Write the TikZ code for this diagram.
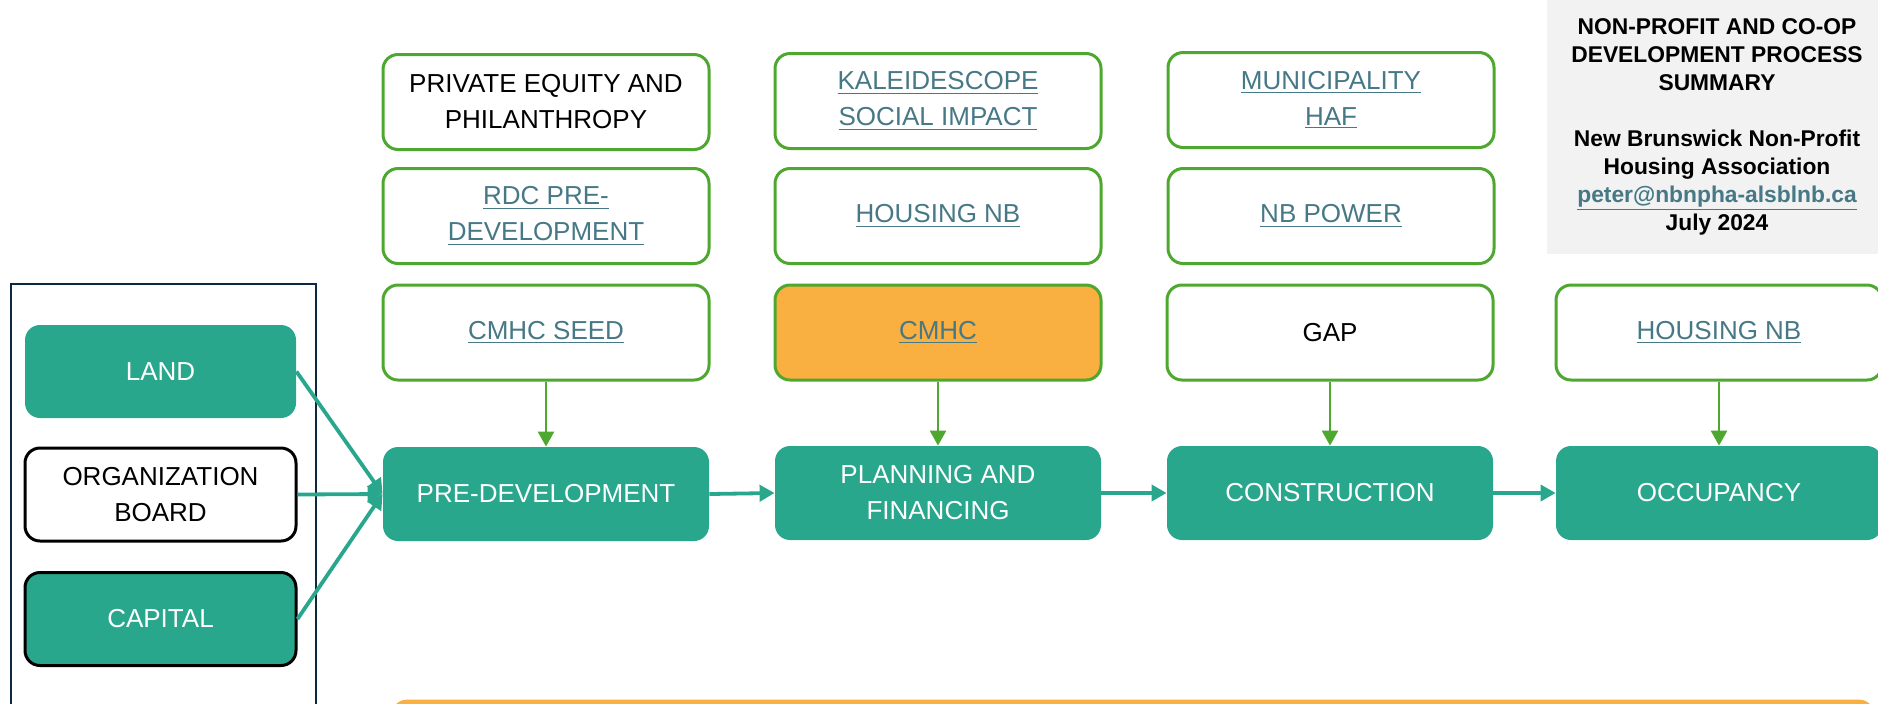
\documentclass[tikz,border=0pt]{standalone}
\usepackage{fontspec}
\setmainfont{Liberation Sans}
\usetikzlibrary{arrows.meta}
\definecolor{tealfill}{HTML}{28A78D}
\definecolor{greenline}{HTML}{4EA72E}
\definecolor{orangefill}{HTML}{FAAF41}
\definecolor{linkcol}{HTML}{467886}
\definecolor{navyline}{HTML}{0E2841}
\definecolor{greybg}{HTML}{F2F2F2}
\newcommand{\lnk}[1]{\textcolor{linkcol}{\underline{#1}}}
\begin{document}
\begin{tikzpicture}[x=0.5pt,y=-0.5pt,
  every node/.style={font=\fontsize{13}{18}\selectfont, align=center, inner sep=0pt},
  fundbox/.style={draw=greenline, line width=1.5pt, rounded corners=7.5pt, fill=white,
    minimum width=163pt, minimum height=47.5pt},
  stagebox/.style={fill=tealfill, rounded corners=7.5pt, text=white,
    minimum width=163pt, minimum height=47pt},
  sidebox/.style={rounded corners=7.5pt, minimum width=135.5pt, minimum height=46.5pt},
  tealarrow/.style={draw=tealfill, line width=1.9pt, -{Triangle[width=8pt,length=7.5pt]}},
  greenarrow/.style={draw=greenline, line width=1.3pt, -{Triangle[width=8pt,length=7.5pt]}}
]
\useasboundingbox (0,0) rectangle (1878,703);
\clip (0,0) rectangle (1878,703);

% summary
\node[fill=greybg, minimum width=166pt, minimum height=127pt] (sumbg) at (1713,127) {};
\node[anchor=north, font=\bfseries\fontsize{11.4}{14}\selectfont] (summary) at (1717,18)
  {NON-PROFIT AND CO-OP\\DEVELOPMENT PROCESS\\SUMMARY\\[14pt]
   New Brunswick Non-Profit\\Housing Association\\\lnk{peter@nbnpha-alsblnb.ca}\\July 2024};

% left group
\node[draw=navyline, line width=1.25pt, minimum width=152.5pt, minimum height=240pt] (group) at (163.5,524) {};
\node[sidebox, fill=tealfill, text=white] (land) at (160.5,371.5) {LAND};
\node[sidebox, fill=white, draw=black, line width=1.5pt] (org) at (160.5,494.5) {ORGANIZATION\\BOARD};
\node[sidebox, fill=tealfill, draw=black, line width=1.5pt, text=white] (cap) at (160.5,619) {CAPITAL};

% funding boxes
\node[fundbox] (pe) at (546,102) {PRIVATE EQUITY AND\\PHILANTHROPY};
\node[fundbox] (rdc) at (546,216) {\lnk{RDC PRE-}\\\lnk{DEVELOPMENT}};
\node[fundbox] (seed) at (546,332.5) {\lnk{CMHC SEED}};

\node[fundbox] (kal) at (938,101) {\lnk{KALEIDESCOPE}\\\lnk{SOCIAL IMPACT}};
\node[fundbox] (hnb1) at (938,216) {\lnk{HOUSING NB}};
\node[fundbox, fill=orangefill] (cmhc) at (938,332.5) {\lnk{CMHC}};

\node[fundbox] (muni) at (1331,100) {\lnk{MUNICIPALITY}\\\lnk{HAF}};
\node[fundbox] (power) at (1331,216) {\lnk{NB POWER}};
\node[fundbox] (gap) at (1330,332.5) {GAP};

\node[fundbox] (hnb2) at (1719,332.5) {\lnk{HOUSING NB}};

% stages
\node[stagebox] (pre) at (546,494) {PRE-DEVELOPMENT};
\node[stagebox] (plan) at (938,493) {PLANNING AND\\FINANCING};
\node[stagebox] (cons) at (1330,493) {CONSTRUCTION};
\node[stagebox] (occ) at (1719,493) {OCCUPANCY};

% bottom box (cut off)
\node[fill=orangefill, draw=orangefill, rounded corners=7.5pt, minimum width=741pt, minimum height=40pt] (bottom) at (1133,740) {};

% arrows
\draw[tealarrow] (land.east) -- (pre.west);
\draw[tealarrow] (org.east) -- (pre.west);
\draw[tealarrow] (cap.east) -- (pre.west);
\draw[tealarrow] (pre.east) -- (plan.west);
\draw[tealarrow] (plan.east) -- (cons.west);
\draw[tealarrow] (cons.east) -- (occ.west);

\draw[greenarrow] (seed.south) -- (pre.north);
\draw[greenarrow] (cmhc.south) -- (plan.north);
\draw[greenarrow] (gap.south) -- (cons.north);
\draw[greenarrow] (hnb2.south) -- (occ.north);
\end{tikzpicture}
\end{document}
